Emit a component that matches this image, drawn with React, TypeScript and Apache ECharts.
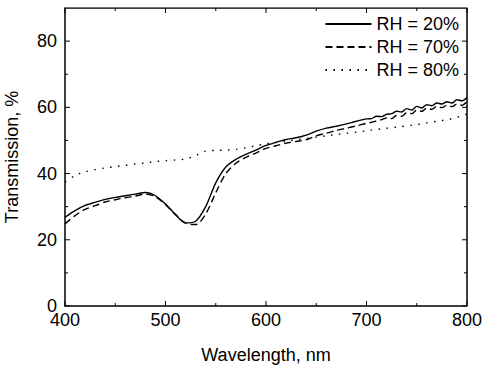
import React, { useEffect, useRef } from "react";
import * as echarts from "echarts";

const wavelengths = [
  400, 410, 420, 430, 440, 450, 460, 470, 480, 490, 500, 510, 520, 530, 540, 550, 560, 570, 580, 590,
  600, 610, 620, 630, 640, 650, 660, 670, 680, 690, 700,
  705, 710, 715, 720, 725, 730, 735, 740, 745, 750, 755, 760, 765, 770, 775, 780, 785, 790, 795, 800,
];

const rh20 = [
  26.8, 28.8, 30.4, 31.3, 32.2, 32.8, 33.3, 33.8, 34.3, 33.3, 30.8, 27.6, 25.1, 25.6, 30.0, 37.2, 42.0, 44.3, 45.8, 47.1,
  48.5, 49.4, 50.3, 50.8, 51.6, 52.8, 53.7, 54.3, 55.0, 55.8, 56.5,
  56.6, 57.3, 57.2, 57.9, 58.1, 58.8, 58.6, 59.6, 59.2, 60.3, 59.8, 60.8, 60.5, 61.3, 61.0, 61.7, 61.3, 62.3, 62.0, 63.0,
];

const rh70 = [
  24.8, 27.3, 29.2, 30.3, 31.4, 32.1, 32.7, 33.2, 33.8, 33.0, 30.6, 27.6, 25.0, 24.6, 27.8, 34.2, 40.0, 43.1, 44.9, 46.2,
  47.6, 48.4, 49.2, 49.7, 50.2, 51.4, 52.2, 53.0, 53.7, 54.4, 55.2,
  55.5, 55.9, 56.3, 56.8, 56.6, 57.6, 57.3, 58.4, 58.1, 59.1, 58.8, 59.8, 59.4, 60.3, 59.9, 60.6, 60.2, 61.0, 60.6, 61.8,
];

const rh80 = [
  37.5, 39.4, 40.5, 41.2, 41.7, 42.1, 42.5, 42.9, 43.2, 43.6, 43.9, 44.1, 44.4, 45.4, 46.8, 47.0, 47.1, 47.3, 47.8, 48.4,
  49.0, 49.4, 49.8, 50.2, 50.6, 51.0, 51.4, 51.8, 52.2, 52.5, 52.9,
  53.1, 53.3, 53.5, 53.7, 53.8, 54.0, 54.2, 54.4, 54.6, 54.8, 55.0, 55.3, 55.5, 55.8, 56.0, 56.3, 56.6, 57.0, 57.4, 58.0,
];

const seriesNames = ["RH = 20%", "RH = 70%", "RH = 80%"];
const yLabels = [0, 20, 40, 60, 80];
const xMajorTicks = [400, 500, 600, 700, 800];
const xMinorTicks = [450, 550, 650, 750];
const yMajorTicks = [0, 20, 40, 60, 80];
const yMinorTicks = [10, 30, 50, 70];
const X_MIN = 400;
const X_MAX = 800;
const Y_MIN = 0;
const Y_MAX = 90;

const FONT = "Liberation Sans, Arial, sans-serif";
const GRID = { left: 65, right: 19, top: 8, bottom: 62 };
const W = 486;
const H = 368;

export default function App() {
  const ref = useRef<HTMLDivElement>(null);
  useEffect(() => {
    if (!ref.current) return;
    const chart = echarts.init(ref.current, null, { renderer: "svg" });
    const pair = (vals: number[]) => wavelengths.map((w, i) => [w, vals[i]]);
    const mk = (name: string, vals: number[], type: any) => ({
      name,
      type: "line",
      data: pair(vals),
      symbol: "none",
      showSymbol: false,
      smooth: 0.3,
      lineStyle: { color: "#000", width: 1.4, type },
      itemStyle: { color: "#000" },
    });
    const plotW = W - GRID.left - GRID.right;
    const plotH = H - GRID.top - GRID.bottom;
    const xu = (px: number) => (px * (X_MAX - X_MIN)) / plotW;
    const yu = (px: number) => (px * (Y_MAX - Y_MIN)) / plotH;
    // frame and tick segments drawn as plain line series on the same axes
    const seg = (pts: number[][], width: number) => ({
      name: seriesNames[0],
      type: "line",
      data: pts,
      symbol: "none",
      showSymbol: false,
      legendHoverLink: false,
      lineStyle: { color: "#000", width, type: "solid" },
      itemStyle: { color: "#000" },
    });
    const decor: any[] = [];
    decor.push(seg([[X_MIN, Y_MAX], [X_MAX, Y_MAX], [X_MAX, Y_MIN]], 1.5));
    const addX = (v: number, px: number) => {
      decor.push(seg([[v, Y_MIN], [v, Y_MIN + yu(px)]], 1));
      decor.push(seg([[v, Y_MAX], [v, Y_MAX - yu(px)]], 1));
    };
    const addY = (v: number, px: number) => {
      decor.push(seg([[X_MIN, v], [X_MIN + xu(px), v]], 1));
      decor.push(seg([[X_MAX, v], [X_MAX - xu(px), v]], 1));
    };
    xMajorTicks.forEach((v) => addX(v, 5));
    xMinorTicks.forEach((v) => addX(v, 3));
    yMajorTicks.forEach((v) => addY(v, 5));
    yMinorTicks.forEach((v) => addY(v, 3));

    chart.setOption({
      animation: false,
      grid: { ...GRID, outerBoundsMode: "none", containLabel: false },
      xAxis: {
        type: "value",
        min: X_MIN,
        max: X_MAX,
        interval: 100,
        axisLine: { show: true, onZero: false, lineStyle: { color: "#000", width: 1.5 } },
        axisTick: { show: false },
        splitLine: { show: false },
        axisLabel: { color: "#000", fontSize: 18, fontFamily: FONT, margin: 7, lineHeight: 13 },
        name: "Wavelength, nm",
        nameLocation: "middle",
        nameGap: 40,
        nameTextStyle: { color: "#000", fontSize: 18, fontFamily: FONT },
      },
      yAxis: {
        type: "value",
        min: Y_MIN,
        max: Y_MAX,
        interval: 20,
        axisLine: { show: true, onZero: false, lineStyle: { color: "#000", width: 1.5 } },
        axisTick: { show: false },
        splitLine: { show: false },
        axisLabel: {
          color: "#000",
          fontSize: 18,
          fontFamily: FONT,
          margin: 8,
          lineHeight: 13,
          formatter: (v: number) => (yLabels.indexOf(v) >= 0 ? String(v) : ""),
        },
        name: "Transmission, %",
        nameLocation: "middle",
        nameGap: 44,
        nameTextStyle: { color: "#000", fontSize: 18, fontFamily: FONT },
      },
      legend: {
        data: seriesNames,
        orient: "vertical",
        right: 22,
        top: 10,
        itemWidth: 46,
        itemHeight: 14,
        itemGap: 5,
        itemStyle: { opacity: 0 },
        textStyle: { color: "#000", fontSize: 18, fontFamily: FONT },
      },
      series: [
        mk(seriesNames[0], rh20, "solid"),
        mk(seriesNames[1], rh70, [7, 4]),
        mk(seriesNames[2], rh80, [1.5, 6.5]),
        ...decor,
      ],
    });
    return () => chart.dispose();
  }, []);
  return (
    <div
      ref={ref}
      style={{ position: "fixed", left: 0, top: 0, width: W, height: H, background: "#fff" }}
    />
  );
}
